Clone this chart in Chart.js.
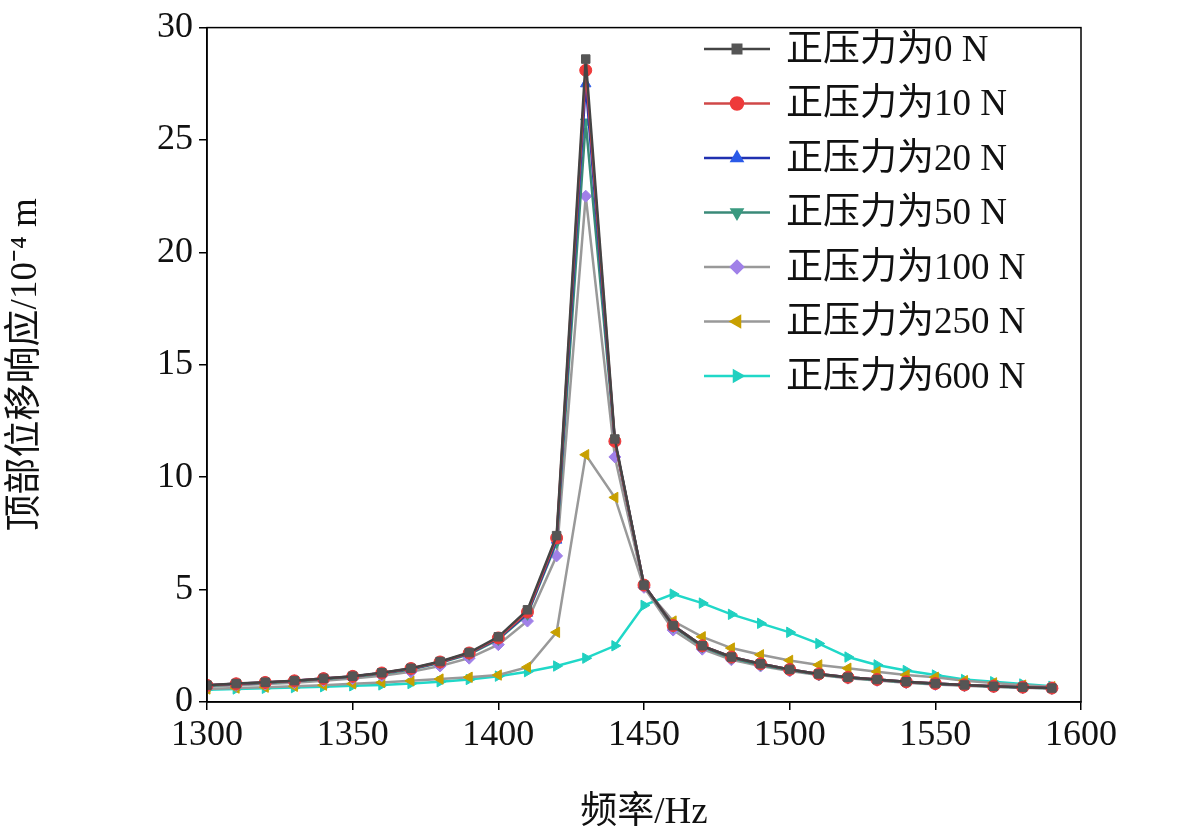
<!DOCTYPE html><html><head><meta charset="utf-8"><script src="https://cdn.jsdelivr.net/npm/chart.js@4"></script>
<style>body{margin:0;background:#fff}#w{width:1181px;height:839px}</style></head><body><div id="w"><canvas id="c"></canvas></div><script>
const freqs=[1300,1310,1320,1330,1340,1350,1360,1370,1380,1390,1400,1410,1420,1430,1440,1450,1460,1470,1480,1490,1500,1510,1520,1530,1540,1550,1560,1570,1580,1590];
const s0  =[0.75,0.82,0.88,0.95,1.05,1.15,1.3,1.5,1.8,2.2,2.9,4.1,7.4,28.6,11.7,5.2,3.4,2.5,2.0,1.7,1.45,1.25,1.1,1.0,0.9,0.82,0.76,0.7,0.66,0.62];
const s10 =[0.74,0.81,0.87,0.94,1.04,1.14,1.29,1.49,1.78,2.18,2.85,4.0,7.3,28.1,11.6,5.2,3.4,2.5,2.0,1.7,1.45,1.25,1.1,1.0,0.9,0.82,0.76,0.7,0.66,0.62];
const s20 =[0.74,0.81,0.87,0.94,1.04,1.14,1.29,1.48,1.77,2.16,2.83,3.95,7.2,27.5,11.6,5.2,3.4,2.5,2.0,1.7,1.45,1.25,1.1,1.0,0.9,0.82,0.76,0.7,0.66,0.62];
const s50 =[0.72,0.79,0.85,0.92,1.02,1.12,1.26,1.45,1.74,2.12,2.78,3.9,7.1,25.8,11.6,5.2,3.35,2.45,1.95,1.65,1.42,1.22,1.08,0.98,0.88,0.8,0.74,0.69,0.65,0.61];
const s100=[0.68,0.74,0.8,0.86,0.95,1.04,1.17,1.34,1.6,1.95,2.55,3.6,6.5,22.5,10.9,5.1,3.2,2.35,1.88,1.6,1.38,1.2,1.06,0.96,0.86,0.78,0.72,0.67,0.63,0.6];
const s250=[0.58,0.62,0.66,0.7,0.75,0.81,0.87,0.94,1.02,1.1,1.2,1.55,3.1,11.0,9.1,5.1,3.6,2.9,2.4,2.1,1.85,1.65,1.5,1.35,1.2,1.1,0.95,0.85,0.75,0.68];
const s600=[0.55,0.58,0.61,0.64,0.68,0.72,0.76,0.82,0.9,1.0,1.15,1.35,1.6,1.95,2.5,4.3,4.8,4.4,3.9,3.5,3.1,2.6,2.0,1.65,1.4,1.2,1.0,0.9,0.8,0.7];
const labels=['正压力为0 N','正压力为10 N','正压力为20 N','正压力为50 N','正压力为100 N','正压力为250 N','正压力为600 N'];
const series=[s0,s10,s20,s50,s100,s250,s600];
const lineC=['#444','#d04848','#2030b0','#3a8a78','#999','#999','#20d8c8'];
const ptC=['#555','#ee3a3a','#2a5ae8','#3a9a80','#a080e8','#c8a000','#20d0c0'];
const ptS=['rect','circle','triangle','triangle','rectRot','triangle','triangle'];
const rot=[0,0,0,180,0,-90,90];
const FF='"Liberation Serif","Noto Sans CJK SC",serif';
const ds=series.map((s,i)=>({label:labels[i],data:s.map((v,j)=>({x:freqs[j],y:v})),borderColor:lineC[i],backgroundColor:ptC[i],borderWidth:2.5,pointStyle:ptS[i],pointRotation:rot[i],pointRadius:6,pointBorderColor:ptC[i],pointBorderWidth:1}));
const legendPlug={id:'lg',afterDraw(ch){const c=ch.ctx;c.save();c.font='37px '+FF;c.textBaseline='middle';
ds.forEach((d,i)=>{const y=49+i*54.5,x0=704,x1=770;c.strokeStyle=d.borderColor;c.lineWidth=2.5;c.beginPath();c.moveTo(x0,y);c.lineTo(x1,y);c.stroke();
c.fillStyle=d.backgroundColor;c.strokeStyle=d.backgroundColor;
Chart.helpers.drawPoint(c,{pointStyle:d.pointStyle,radius:6,rotation:d.pointRotation,borderWidth:1},(x0+x1)/2,y);
c.fillStyle='#111';c.fillText(d.label,786,y+2);});
const a=ch.chartArea;c.strokeStyle='#000';c.lineWidth=1.5;c.strokeRect(a.left,a.top,a.right-a.left,a.bottom-a.top);c.restore();}};
new Chart(document.getElementById('c'),{type:'line',data:{datasets:ds},plugins:[legendPlug],
options:{responsive:true,maintainAspectRatio:false,animation:false,layout:{padding:{top:22,right:100,left:0,bottom:0}},
plugins:{legend:{display:false},tooltip:{enabled:false}},
scales:{x:{type:'linear',min:1300,max:1600,afterFit:s=>{s.height=137},ticks:{stepSize:50,callback:v=>String(v),color:'#111',font:{family:FF,size:36},padding:4},grid:{drawOnChartArea:false,tickLength:8,color:'#000',lineWidth:1.5},border:{color:'#000',width:1.5},
title:{display:true,text:'频率/Hz',color:'#111',font:{family:FF,size:37},padding:{top:8}}},
y:{min:0,max:30,afterFit:s=>{s.width=207},ticks:{stepSize:5,color:'#111',font:{family:FF,size:36},padding:6},grid:{drawOnChartArea:false,tickLength:8,color:'#000',lineWidth:1.5},border:{color:'#000',width:1.5},
title:{display:true,text:'顶部位移响应/10⁻⁴ m',color:'#111',font:{family:FF,size:37},padding:{bottom:12}}}}}});
</script></body></html>
